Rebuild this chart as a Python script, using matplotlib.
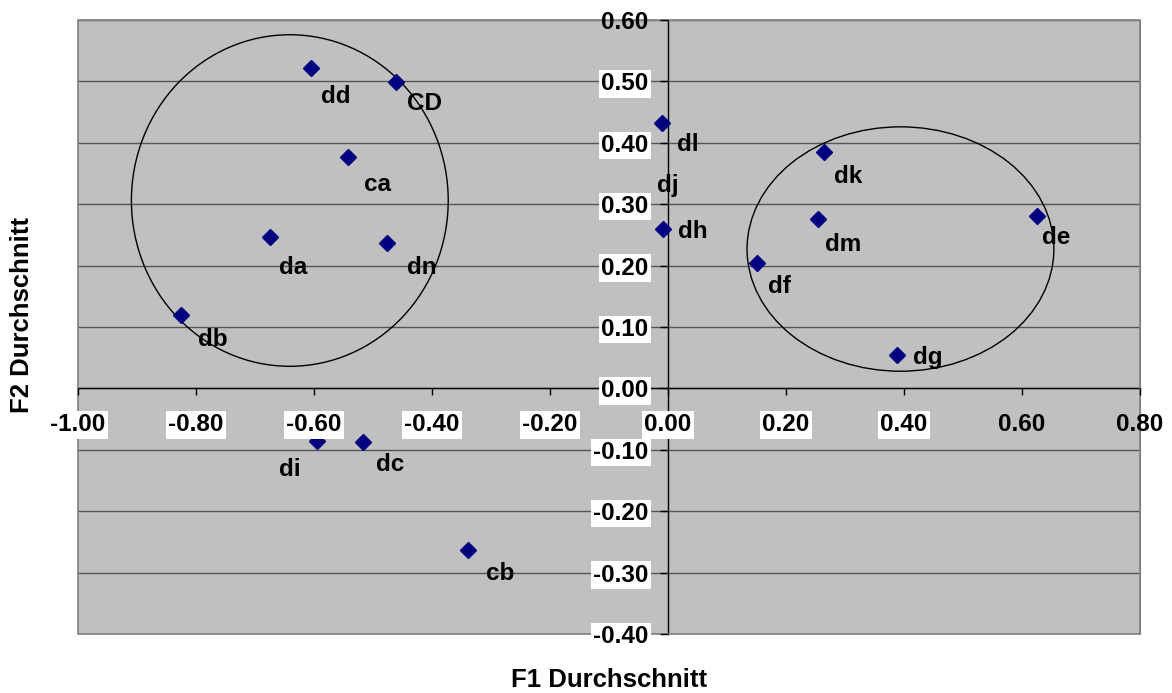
import matplotlib.pyplot as plt
from matplotlib.patches import Ellipse, Rectangle

plt.rcParams['font.family'] = ['Liberation Sans', 'DejaVu Sans']

# F1 / F2 averages per item
names = ['dd', 'CD', 'ca', 'da', 'dn', 'db', 'di', 'dc', 'cb',
         'dl', 'dh', 'dk', 'dm', 'df', 'de', 'dg']
f1 = [-0.605, -0.461, -0.542, -0.675, -0.476, -0.825, -0.595, -0.517, -0.339,
      -0.010, -0.008, 0.264, 0.254, 0.151, 0.625, 0.388]
f2 = [0.522, 0.499, 0.377, 0.247, 0.237, 0.119, -0.086, -0.088, -0.263,
      0.433, 0.259, 0.385, 0.276, 0.205, 0.281, 0.055]

x_ticks = [-1.0, -0.8, -0.6, -0.4, -0.2, 0.0, 0.2, 0.4, 0.6, 0.8]
y_ticks = [-0.4, -0.3, -0.2, -0.1, 0.0, 0.1, 0.2, 0.3, 0.4, 0.5, 0.6]

# label offsets from the marker, in pixels (right, down)
label_offsets = {
    'dd': (25, 29), 'CD': (28, 21), 'ca': (29, 28), 'da': (23, 31),
    'dn': (35, 25), 'db': (32, 24), 'di': (-27, 28), 'dc': (27, 22),
    'cb': (32, 24), 'dl': (26, 22), 'dh': (30, 2), 'dk': (24, 24),
    'dm': (25, 26), 'df': (22, 24), 'de': (19, 22), 'dg': (31, 3),
}

FS = 17.5

fig = plt.figure(figsize=(11.72, 6.93), dpi=100)
ax = fig.add_axes([78 / 1172, 59 / 693, 1062 / 1172, 614 / 693])
ax.set_facecolor('#c0c0c0')
ax.set_xlim(-1.0, 0.8)
ax.set_ylim(-0.4, 0.6)

# horizontal gridlines behind everything
for yv in y_ticks:
    ax.axhline(yv, color='#555555', lw=1.0, zorder=0.5)

# axes crossing at zero
ax.spines['left'].set_position(('data', 0))
ax.spines['bottom'].set_position(('data', 0))
ax.spines['left'].set_color('black')
ax.spines['bottom'].set_color('black')
ax.spines['left'].set_linewidth(1.0)
ax.spines['bottom'].set_linewidth(1.0)
for s in ['top', 'right']:
    ax.spines[s].set_color('#808080')
ax.add_patch(Rectangle((0, 0), 1, 1, transform=ax.transAxes, fill=False,
                       edgecolor='#808080', lw=1.2, zorder=2.6, clip_on=False))

ax.set_xticks(x_ticks)
ax.set_yticks(y_ticks)
ax.set_xticklabels([f'{v:.2f}' for v in x_ticks])
ax.set_yticklabels([f'{v:.2f}' for v in y_ticks])
ax.tick_params(axis='x', direction='out', length=5, width=1, pad=13,
               labelsize=FS)
ax.tick_params(axis='y', direction='out', length=6, width=1, pad=8,
               labelsize=FS)
for lab in ax.get_xticklabels() + ax.get_yticklabels():
    lab.set_fontweight('bold')
    if lab.get_text() not in ('0.60', '0.80'):
        lab.set_bbox(dict(facecolor='white', edgecolor='none', pad=1.5))
ax.xaxis.set_zorder(5)
ax.yaxis.set_zorder(5)

# cluster ellipses
ax.add_patch(Ellipse((-0.641, 0.306), 0.537, 0.54, fill=False,
                     edgecolor='black', lw=1.0, zorder=2))
ax.add_patch(Ellipse((0.394, 0.227), 0.520, 0.398, fill=False,
                     edgecolor='black', lw=1.0, zorder=2))

ax.plot(f1, f2, linestyle='none', marker='D', markersize=8.5,
        color='#000080', zorder=3, clip_on=False)

for n, xv, yv in zip(names, f1, f2):
    dx, dy = label_offsets[n]
    ax.annotate(n, (xv, yv), xytext=(dx * 0.72, -dy * 0.72),
                textcoords='offset points', ha='center', va='center',
                fontsize=FS, fontweight='bold', zorder=4)
# label without a visible marker
ax.text(0.0, 0.33, 'dj', ha='center', va='center', fontsize=FS,
        fontweight='bold', zorder=4)

fig.text(609 / 1172, 1 - 680 / 693, 'F1 Durchschnitt', ha='center',
         va='center', fontsize=18.5, fontweight='bold')
fig.text(22 / 1172, 1 - 315 / 693, 'F2 Durchschnitt', ha='center',
         va='center', rotation=90, fontsize=18.5, fontweight='bold')

fig.savefig('out.png', dpi=100)
